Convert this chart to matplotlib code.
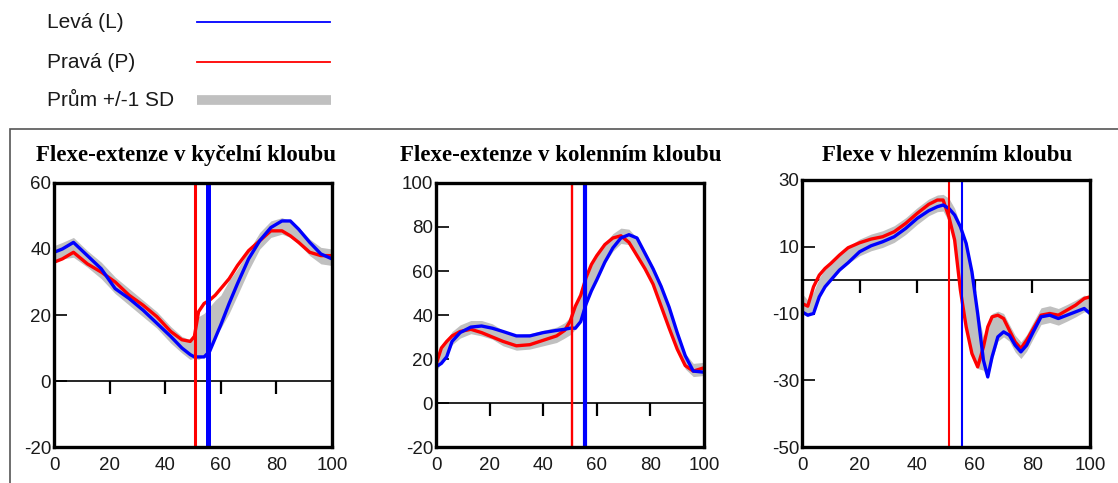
import numpy as np
import matplotlib.pyplot as plt
from matplotlib.patches import Rectangle

# ---- data: kyčel (hip) ----
hip_x = [0, 3, 7, 12, 17, 22, 27, 32, 37, 42, 46, 49, 50.5, 52, 54, 56, 58, 60,
         63, 66, 70, 74, 78, 82, 85, 88, 92, 96, 100]
hip_left = [39, 40, 42, 38, 34, 28, 25, 21.5, 17.5, 13.5, 10, 8, 7.3, 7.3, 7.3, 9, 13, 17,
            23.5, 29.5, 37, 42.5, 46.5, 48.5, 48.5, 46, 42, 38.5, 37]
hip_right = [36, 37, 39, 35.5, 33, 30, 26, 23, 19.5, 15, 12.5, 12, 13.5, 21, 23.5, 24.5, 26, 28,
             31, 35, 39.5, 42.5, 45.5, 45.5, 44, 42, 39, 38, 38]
hip_mean = [38.5, 39.5, 40.5, 37, 33.5, 29, 25.5, 22, 18.5, 14, 11, 9.5, 11, 13, 14, 16.5, 19, 21,
            25.5, 30, 36.5, 42.5, 46, 47, 46, 44, 40.5, 38, 37.5]
hip_sd = [2.5, 2.5, 3, 2.5, 2.5, 2.5, 2.5, 2.5, 2.5, 2.5, 2.5, 3, 4, 6.5, 6.5, 6, 5.5, 5,
          5, 4, 3, 2.5, 2.5, 2.5, 2.5, 2.5, 2.5, 2.5, 2.5]

# ---- data: koleno (knee) ----
knee_x = [0, 2, 4, 6, 9, 13, 17, 21, 25, 30, 35, 40, 45, 48, 50, 52, 54, 56, 58, 60,
          63, 66, 69, 72, 75, 78, 81, 84, 87, 90, 93, 96, 100]
knee_left = [16.5, 18, 21, 28, 32, 34.5, 35, 34, 32.5, 30.5, 30.5, 32, 33, 33.5, 34, 34, 37, 45, 51, 56,
             64, 70.5, 75, 76.5, 75, 68, 61, 53, 43.5, 32, 21.5, 14.5, 14]
knee_right = [17.5, 25, 28, 30.5, 32.5, 33.5, 32, 30, 28, 26, 26.5, 28.5, 30.5, 33, 37, 44, 49, 57, 63, 67,
              72, 75, 76, 73, 67, 61, 54, 44, 34, 24.5, 17, 14.5, 16]
knee_mean = [17.5, 21.5, 25, 29.5, 32.5, 34.5, 34, 32.5, 29.5, 27.5, 28, 29.5, 31, 33, 35, 38.5, 43, 50, 57, 61.5,
             68, 73, 76, 75.5, 71.5, 65, 57.5, 49, 39, 28.5, 19, 15, 15.5]
knee_sd = [3, 3.5, 3.5, 3, 3, 3, 3.5, 3.5, 3.5, 3.5, 3.5, 3.5, 3.5, 3.5, 4, 5, 6, 6, 5.5, 5,
           4.5, 4, 3.5, 3.5, 3.5, 4, 4.5, 5, 5, 4.5, 3.5, 3, 3]

# ---- data: hlezno (ankle) ----
ankle_x = [0, 2, 4, 6, 8, 10, 13, 16, 20, 24, 28, 32, 36, 40, 44, 47, 49, 51, 53, 55,
           57, 59, 61, 63, 64.5, 66, 68, 70, 72, 74, 76, 78, 80, 83, 86, 89, 92, 95, 98, 100]
ankle_left = [-9.5, -10.5, -10, -5, -2, 0, 3, 5.2, 8.5, 10.3, 11.5, 13, 15.5, 18.5, 20.8, 22, 22.5, 21.5, 19.5, 16,
              11, 2.5, -10, -24, -29, -23, -17, -15.5, -16.5, -19.5, -21.5, -19.5, -16, -11, -10.5, -11.5, -10.5, -9.5, -8.5, -10]
ankle_right = [-7, -7.8, -2, 1.5, 3.5, 5, 7.5, 9.7, 11.2, 12.3, 13, 14.5, 17, 20, 22.7, 24, 24, 19, 12, -3,
               -14, -22, -26, -20, -14, -11, -10.5, -11.5, -15, -18.5, -20.5, -18, -15, -10.5, -10, -10.5, -9, -7.5, -5.5, -5]
ankle_mean = [-7, -8.5, -6, -1.8, 0.8, 2.5, 5.2, 7.5, 9.8, 11.3, 12.3, 13.8, 16.2, 19.2, 21.8, 23, 23.2, 21, 16.5, 7,
              -1.5, -10, -18, -22, -21.5, -17, -13.8, -13.5, -15.8, -19, -21, -18.8, -15.5, -10.8, -10.2, -11, -9.8, -8.5, -7, -7.5]
ankle_sd = [3, 2.5, 2.5, 2.5, 2.5, 2.5, 2.5, 2.5, 2.5, 2.5, 2.5, 2.5, 2.5, 2.5, 2.5, 2.5, 2.5, 3.5, 5, 9.5,
            12.5, 12.5, 8.5, 5, 8, 7, 4.5, 3.5, 2.5, 2.5, 2.5, 2.5, 2.5, 2.5, 2.5, 2.5, 2.5, 2.5, 2.5, 2.5]

titles = ['Flexe-extenze v kyčelní kloubu', 'Flexe-extenze v kolenním kloubu', 'Flexe v hlezenním kloubu']
y_ranges = [(-20, 60), (-20, 100), (-50, 30)]
y_steps = [20, 20, 20]
# toe-off (konec stojné fáze) v % cyklu
toe_off_right = [50.7, 50.9, 51.0]
toe_off_left = [55.4, 55.6, 55.7]
legend_labels = ['Levá (L)', 'Pravá (P)', 'Prům +/-1 SD']

BLUE = '#0000ff'
RED = '#ff0000'
GRAY = '#c0c0c0'


def draw_panel(fig, rect, title, title_x, x, left, right, mean, sd, yr, ystep, tr, tl, vl_w):
    """
    jeden graf kloubu
    """
    ax = fig.add_axes(rect)
    ax.set_axisbelow(True)
    x = np.array(x)
    mean = np.array(mean)
    sd = np.array(sd)

    # nulova osa s tickami dolu
    ax.axhline(0, color='black', lw=1.2, zorder=0.6)
    ax.plot([20, 40, 60, 80], [0, 0, 0, 0], ls='none', marker=3, ms=9, mew=1.6,
            color='black', zorder=0.6)

    # pas +/- SD
    ax.fill_between(x, mean - sd, mean + sd, color=GRAY, lw=0, zorder=1)
    ax.plot(x, right, color=RED, lw=2.4, zorder=2)
    ax.plot(x, left, color=BLUE, lw=2.4, zorder=2.1)

    # konec stoje
    ax.axvline(tr, color=RED, lw=vl_w[0], zorder=3)
    ax.axvline(tl, color=BLUE, lw=vl_w[1], zorder=3)

    ax.set_xlim(0, 100)
    ax.set_ylim(*yr)
    ax.set_xticks(range(0, 101, 20))
    ax.set_yticks(range(yr[0], yr[1] + 1, ystep))
    ax.tick_params(axis='y', direction='in', length=9.5, width=1.2, pad=2,
                   labelsize=13.5, labelcolor='#1a1a1a')
    ax.tick_params(axis='x', length=0, pad=7, labelsize=13.5, labelcolor='#1a1a1a')
    for s in ax.spines.values():
        s.set_linewidth(2.4)
        s.set_zorder(4)
    fig.text(title_x, 0.679, title, ha='center', va='center', fontsize=16.5,
             fontweight='bold', family='Liberation Serif')
    return ax


def main():
    plt.rcParams['font.family'] = ['Liberation Sans', 'DejaVu Sans']
    plt.rcParams['axes.unicode_minus'] = False
    fig = plt.figure(figsize=(11.18, 4.83), dpi=100)

    # ramecek kolem grafu
    fig.add_artist(Rectangle((10 / 1118, -0.1), 1.2, (483 - 129) / 483 + 0.1,
                             transform=fig.transFigure, fill=False,
                             edgecolor='#555555', lw=1.2, clip_on=False))

    # legenda
    legend_y = [1 - 22 / 483, 1 - 62 / 483, 1 - 100 / 483]
    fig.text(47 / 1118, legend_y[0], legend_labels[0], fontsize=15, va='center', color='#1a1a1a')
    fig.text(47 / 1118, legend_y[1], legend_labels[1], fontsize=15, va='center', color='#1a1a1a')
    fig.text(47 / 1118, legend_y[2], legend_labels[2], fontsize=15, va='center', color='#1a1a1a')
    fig.add_artist(plt.Line2D([197 / 1118, 330 / 1118], [legend_y[0]] * 2, color=BLUE, lw=1.3))
    fig.add_artist(plt.Line2D([197 / 1118, 330 / 1118], [legend_y[1]] * 2, color=RED, lw=1.3))
    fig.add_artist(plt.Line2D([197 / 1118, 331 / 1118], [legend_y[2]] * 2, color=GRAY, lw=7,
                              solid_capstyle='butt'))

    rects = [
        [54 / 1118, 36 / 483, 278 / 1118, 264 / 483],
        [436 / 1118, 36 / 483, 268 / 1118, 264 / 483],
        [802 / 1118, 36 / 483, 288 / 1118, 267 / 483],
    ]
    title_xs = [186 / 1118, 561 / 1118, 947 / 1118]
    data = [
        (hip_x, hip_left, hip_right, hip_mean, hip_sd, (2.2, 3.6)),
        (knee_x, knee_left, knee_right, knee_mean, knee_sd, (1.7, 3.0)),
        (ankle_x, ankle_left, ankle_right, ankle_mean, ankle_sd, (1.5, 1.5)),
    ]
    for i in range(3):
        x, l, r, m, s, w = data[i]
        draw_panel(fig, rects[i], titles[i], title_xs[i], x, l, r, m, s,
                   y_ranges[i], y_steps[i], toe_off_right[i], toe_off_left[i], w)

    fig.savefig('out.png', dpi=100)


if __name__ == '__main__':
    main()
